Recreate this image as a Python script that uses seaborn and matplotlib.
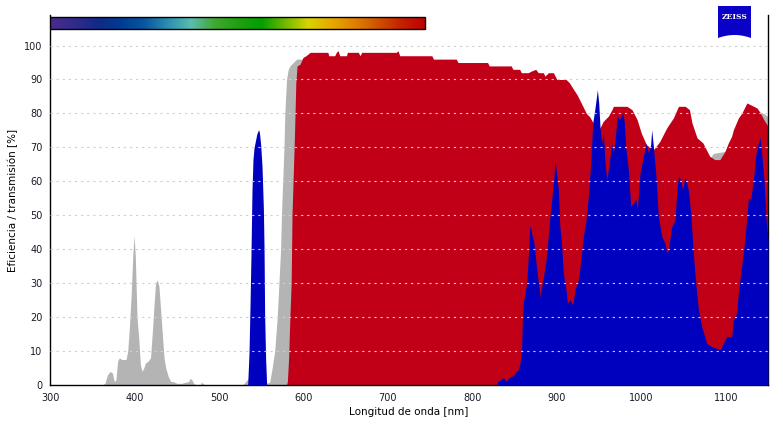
import numpy as np
import matplotlib
matplotlib.use("Agg")
import matplotlib.pyplot as plt
import seaborn as sns
from matplotlib.colors import LinearSegmentedColormap
from matplotlib.patches import Rectangle, Polygon

# Data: wavelength [nm] / value [%]
gray_wl = [300, 362, 365, 368, 371, 374, 376, 378, 380, 382, 385, 390, 392, 394, 396,
           398, 399.5, 401, 403, 405, 407, 409, 411, 413, 416, 419, 421, 423, 425, 427,
           429, 431, 433, 435, 437, 440, 443, 446, 450, 456, 460, 464, 466, 468, 470,
           473, 478, 479, 481, 483, 528, 530, 533, 536, 545, 556, 560, 563, 566, 569,
           571, 573, 574, 575.5, 577, 578, 580, 582, 584, 588, 592, 596, 600, 700, 800,
           900, 930, 950, 965, 985, 1000, 1014, 1030, 1044, 1052, 1066, 1077, 1081,
           1085, 1099, 1110, 1130, 1138, 1140, 1145, 1150]
gray_val = [0, 0, 0.5, 3, 4, 3.5, 1, 1.5, 7, 8, 7.5, 7.5, 10, 17, 26,
            38, 44, 38, 20, 14, 6, 4, 5, 6.5, 7, 8, 15, 23, 30, 31,
            29, 22, 15, 8, 5, 2.5, 1, 1, 0.5, 0.5, 0.8, 1, 2, 1.5, 0.5,
            0, 0, 0.8, 0.5, 0, 0, 0.5, 1.5, 2, 1.5, 0.5, 0.8, 5, 10, 20,
            30, 40, 50, 60, 70, 80, 90, 93, 94, 95, 96, 96, 96, 95, 92,
            87, 80, 74, 79, 80, 72, 67, 73, 80, 80, 70, 67, 66.5,
            68.2, 68.8, 74, 82, 81, 80.5, 80, 79]

red_wl = [300, 580, 581, 582.5, 584, 585.5, 586.5, 588, 589, 590, 591, 592.5, 596,
          599.5, 603, 608, 629, 630, 637, 639, 641, 643, 651, 652, 665, 667, 669,
          710, 712, 714, 752, 754, 781, 783, 818, 820, 846, 848, 856, 858, 866, 870,
          875, 878, 884, 886, 890, 896, 898, 900, 911, 915, 920, 924, 927, 931, 935,
          939, 943, 947, 951, 955, 961, 965, 967, 983, 989, 995, 1000, 1006, 1014,
          1016, 1022, 1030, 1038, 1044, 1052, 1057, 1060, 1066, 1073, 1077, 1081,
          1087, 1093, 1099, 1103, 1107, 1109, 1115, 1119, 1125, 1129, 1137, 1141,
          1145, 1150]
red_val = [0, 0, 1, 8, 20, 30, 50, 62, 70, 79, 89, 94, 94.5,
           96.5, 97, 98, 98, 97, 97, 98, 98.5, 97, 97, 98, 98, 97, 98,
           98, 98.5, 97, 97, 96, 96, 95, 95, 94, 94, 93, 93, 92, 92, 92.5,
           93, 92, 92, 91, 92, 92, 91, 90, 90, 89, 87, 85.5, 84, 82, 80,
           79, 77.2, 76.2, 75.7, 77.7, 79.2, 81, 82.1, 82.1, 81.1, 78.2, 74.2, 70.8, 69.3,
           69.8, 71.8, 75.7, 78.7, 82.1, 82.1, 81.1, 77.2, 72.8, 71.3, 69.3, 67.4,
           66.4, 66.4, 68.8, 71.3, 73.3, 75.2, 78.7, 80.1, 83.1, 82.6, 81.6, 80.1,
           78.2, 76.2]

blue_wl = [300, 534, 535.6, 536.8, 538, 539.1, 540.3, 541.5, 543.1, 544.7, 546, 547,
           548, 549.4, 551, 552.6, 553.4, 554.1, 555.3, 556.5, 829, 830, 833, 835,
           838, 839.5, 842.5, 846.5, 849.3, 851.7, 854.4, 856.4, 858.4, 859.2, 860.3,
           862.3, 864.3, 865.5, 866.7, 867.5, 868.2, 870.2, 873, 875, 877.3, 879.3,
           880.1, 882.1, 884.8, 887.2, 888.8, 891.1, 893.1, 894.7, 896.3, 898, 900,
           901.8, 903.5, 905.5, 907.7, 910.9, 912.5, 915.6, 918.8, 921.6, 925.5,
           928.3, 931.4, 934.6, 937.3, 940.1, 942.5, 945.2, 948, 949.6, 951.2, 953.1,
           955.1, 957.1, 959, 962.2, 965, 967, 968.9, 971.7, 974, 976, 978, 980,
           981.5, 984.7, 987.5, 990.6, 993.8, 995.3, 998.5, 1002.5, 1005.6, 1008.4,
           1011.1, 1012.3, 1014.3, 1017.4, 1020.2, 1024.2, 1028.1, 1030.1, 1032, 1036,
           1039.9, 1041.9, 1043.9, 1046.6, 1049, 1051.8, 1055.7, 1058.5, 1061.6,
           1064.8, 1067.6, 1071.5, 1077.4, 1083.3, 1089.3, 1093.2, 1097.2, 1101.1,
           1107, 1109, 1112.9, 1114.9, 1117.7, 1120.8, 1124, 1126.8, 1129.5, 1132.7,
           1135.8, 1138.6, 1140.6, 1142.5, 1145.3, 1147.7, 1149.2, 1150]
blue_val = [0, 0, 9.4, 23.6, 39.3, 57, 66.4, 69.8, 71.8, 73.8, 74.7, 75.2,
            74.2, 70.8, 64.4, 52.1, 40.3, 20.7, 7.4, 0, 0, 1, 1.5, 2,
            2, 1, 2, 2.5, 3, 4, 4.4, 6.4, 11.3, 19.2, 24.1,
            27, 30, 34.9, 39.8, 44.7, 47.2, 44.7, 41.8, 36.9, 31.9, 28,
            26.1, 29, 32.9, 36.9, 40.8, 47.7, 52.6, 56.5, 60.5, 66, 62,
            57.5, 47, 41.8, 33, 28, 24.1, 25.1, 23.6, 28.1, 31,
            36.4, 43.8, 48.7, 55.6, 65.4, 77.2, 81.6, 87, 83.1, 75.7, 71.3,
            74.2, 65.4, 60.5, 65.4, 71.3, 68.3, 72.3, 79.2, 78.2, 79.2, 80.1, 77.2,
            70.3, 63.4, 52.6, 53.6, 54.6, 51.6, 62.4, 67.4, 71.3, 68.3,
            70.8, 75.2, 70.3, 61.5, 49.7, 43.8, 41.8, 38.9, 39.8, 46.7,
            48.7, 56.6, 61.5, 60.5, 57.5, 61.5, 57.5, 50.7, 38.9,
            29, 22.2, 17.2, 12.3, 11.3, 10.8, 10.4, 12.3, 14.3,
            14.3, 19.2, 21.2, 27.1, 33, 38.9, 46.7, 55.1, 54.6, 60.5,
            68.3, 71.3, 72.8, 68.3, 60.5, 48.7, 44.8, 43]

x_ticks = [300, 400, 500, 600, 700, 800, 900, 1000, 1100]
y_ticks = [0, 10, 20, 30, 40, 50, 60, 70, 80, 90, 100]

# visible spectrum bar colours
spectrum_colors = ["#4a2b8f", "#332a8c", "#102a88", "#003c92", "#0a55a0", "#2a8fb0",
                   "#5cbcb0", "#40a830", "#20a010", "#00a000", "#70b800", "#d8d400",
                   "#e8a800", "#e08000", "#d05000", "#c42000", "#c00000"]

sns.set_theme(style="white")
plt.rcParams['font.family'] = ['DejaVu Sans']

fig = plt.figure(figsize=(7.83, 4.26), dpi=100)
ax = fig.add_axes([50 / 783, 41 / 426, 718 / 783, 370 / 426])

ax.fill_between(gray_wl, 0, gray_val, color="#b4b4b4", lw=0, zorder=1)
ax.fill_between(red_wl, 0, red_val, color="#c10018", lw=0, zorder=2)
ax.fill_between(blue_wl, 0, blue_val, color="#0000bf", lw=0, zorder=3)

for yv in y_ticks[1:]:
    ax.axhline(yv, color="#cfcfcf", lw=0.8, ls=(0, (2, 3.5)), zorder=4)

# spectrum bar above the plot
cmap = LinearSegmentedColormap.from_list("spec", spectrum_colors)
grad = np.linspace(0, 1, 256).reshape(1, -1)
ax.imshow(grad, extent=[300, 744, 105, 108.3], aspect='auto', cmap=cmap, zorder=5)
ax.add_patch(Rectangle((300, 105), 444, 3.3, fill=False, ec="black", lw=1, zorder=6))

ax.set_xlim(300, 1150)
ax.set_ylim(0, 109)
ax.set_xticks(x_ticks)
ax.set_yticks(y_ticks)
ax.tick_params(direction='inout', length=7, width=1, color='black', labelsize=7,
               labelcolor='#1a1a2a', pad=2)
for s in ['left', 'bottom', 'right']:
    ax.spines[s].set_color('black')
    ax.spines[s].set_linewidth(1)
ax.spines['top'].set_visible(False)
ax.set_xlabel("Longitud de onda [nm]", fontsize=7.5, color='black', labelpad=3)
ax.set_ylabel("Eficiencia / transmisión [%]", fontsize=7.5, color='black', labelpad=4)

# ZEISS logo
lx0, lx1 = 718 / 783, 751 / 783
ty = 1 - 6 / 426
arc_x = np.linspace(lx0, lx1, 20)
arc_y = 1 - (38 - 3 * (1 - ((arc_x - (lx0 + lx1) / 2) / ((lx1 - lx0) / 2)) ** 2)) / 426
pts = [(lx0, ty), (lx1, ty)] + list(zip(arc_x[::-1], arc_y[::-1]))
fig.patches.append(Polygon(pts, closed=True, transform=fig.transFigure,
                           fc="#0a00c8", ec="none"))
fig.text((lx0 + lx1) / 2, 1 - 17 / 426, "ZEISS", color="white", fontsize=5.5,
         fontweight="bold", family="DejaVu Serif", ha="center", va="center")

fig.savefig("out.png", dpi=100)
